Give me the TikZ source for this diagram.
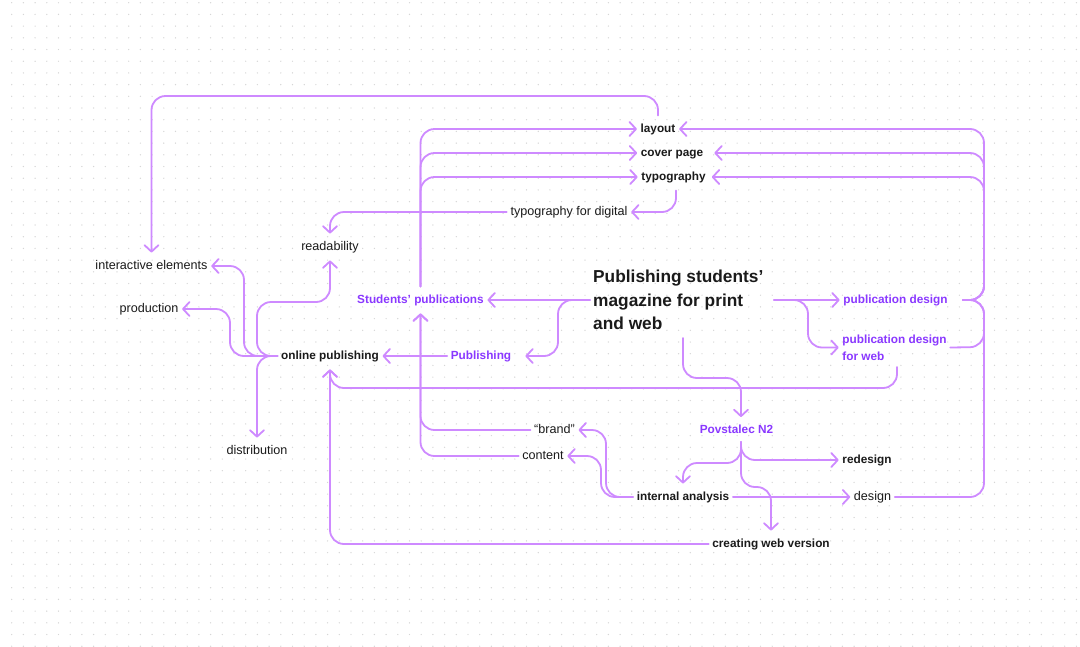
\documentclass[tikz,border=0pt]{standalone}
\usepackage{fontspec}
\setmainfont{Liberation Sans}
\usetikzlibrary{arrows.meta}
\definecolor{ln}{RGB}{206,138,255}
\definecolor{pur}{RGB}{138,56,255}
\definecolor{txt}{RGB}{26,26,26}
\definecolor{dotc}{RGB}{214,214,214}
\begin{document}
\begin{tikzpicture}[x=1pt,y=-1pt,
  lab/.style={text=txt, inner xsep=3.5pt, inner ysep=7.5pt, text height=9pt, text depth=2.5pt, font=\fontsize{12.6}{15}\selectfont},
  blab/.style={lab, font=\fontsize{11.8}{15}\selectfont\bfseries},
  plab/.style={blab, text=pur},
  multi/.style={text=pur, align=left, inner xsep=3.5pt, inner ysep=2pt, font=\fontsize{11.8}{17}\selectfont\bfseries},
  ttl/.style={text=txt, align=left, anchor=west, inner sep=0pt, font=\fontsize{17.3}{23.5}\selectfont\bfseries},
  conn/.style={draw=ln, line width=1.8pt, rounded corners=14pt, line cap=round},
  arr/.style={conn, -{Straight Barb[length=6.5pt,width=14pt,round]}}
]
\fill[white] (0,0) rectangle (1080,646);
\useasboundingbox (0,0) rectangle (1080,646);
\foreach \i in {0,...,91} {\foreach \j in {0,...,55} {\fill[dotc] ({11.7+\i*11.7},{2.7+\j*11.7}) circle (0.7pt);}}

% nodes
\node[blab] (layout) at (658,129) {layout};
\node[blab] (cover) at (672,153) {cover page};
\node[blab] (typo) at (673.5,177) {typography};
\node[lab] (typodig) at (569,212) {typography for digital};
\node[lab] (read) at (330,247) {readability};
\node[lab] (inter) at (151.5,266) {interactive elements};
\node[lab] (prod) at (149,309) {production};
\node[blab] (onl) at (330,356) {online publishing};
\node[lab] (dist) at (257,451) {distribution};
\node[plab] (stud) at (420.5,300) {Students’ publications};
\node[ttl] (title) at (593,300) {Publishing students’\\magazine for print\\and web};
\node[plab] (pd) at (895.5,300) {publication design};
\node[multi] (pdw) at (894.5,347.5) {publication design\\for web};
\node[plab] (pub) at (481,356) {Publishing};
\node[plab] (pov) at (736.5,430.5) {Povstalec N2};
\node[lab] (brand) at (554.5,430) {“brand”};
\node[lab] (content) at (543,456) {content};
\node[blab] (ia) at (683,497) {internal analysis};
\node[blab] (redesign) at (867,460) {redesign};
\node[lab] (design) at (872.5,497) {design};
\node[blab] (cwv) at (771,544) {creating web version};

% free ends
\coordinate (tL) at (590,300);
\coordinate (tR) at (774,300);
\coordinate (tB) at (683,338);
\coordinate (pdT) at (963,300);
\coordinate (pdwB) at (897,367);
\coordinate (povB) at (741,442);

% top left loop
\draw[arr] (layout.north) -- (658,96) -- (151.5,96) -- (inter.north);
% students' publications to layout/cover/typography
\draw[arr] (stud.north) -- (420.5,129) -- (layout.west);
\draw[arr] (stud.north) -- (420.5,153) -- (cover.west);
\draw[arr] (stud.north) -- (420.5,177) -- (typo.west);
% typography chain
\draw[arr] ([xshift=2.5pt]typo.south) -- (676,212) -- (typodig.east);
\draw[arr] (typodig.west) -- (330,212) -- (read.north);
% right brace
\draw[arr] (pdT) -- (984,300) -- (984,129) -- (layout.east);
\draw[arr] (pdT) -- (984,300) -- (984,153) -- ([xshift=7.5pt]cover.east);
\draw[arr] (pdT) -- (984,300) -- (984,177) -- ([xshift=2.5pt]typo.east);
\draw[conn] (pdw.east) -- (984,347) -- (984,300) -- (pdT);
\draw[conn] (design.east) -- (984,497) -- (984,300) -- (pdT);
% title
\draw[arr] (tL) -- (stud.east);
\draw[arr] (tL) -- (558,300) -- (558,356) -- ([xshift=10.5pt]pub.east);
\draw[arr] (tR) -- (pd.west);
\draw[arr] (tR) -- (808,300) -- (808,347.5) -- (pdw.west);
\draw[arr] (tB) -- (683,378) -- (741,378) -- ([xshift=4.5pt]pov.north);
% online publishing
\draw[arr] (pub.west) -- (onl.east);
\draw[arr] (pdwB) -- (897,388) -- (330,388) -- (onl.south);
\draw[arr] (cwv.west) -- (330,544) -- (onl.south);
\draw[arr] (onl.west) -- (244,356) -- (244,266) -- (inter.east);
\draw[arr] (onl.west) -- (230,356) -- (230,309) -- (prod.east);
\draw[arr] (onl.west) -- (257,356) -- (257,302) -- (330,302) -- (read.south);
\draw[arr] (onl.west) -- (257,356) -- (dist.north);
% brand / content to students' publications
\draw[arr] (brand.west) -- (420.5,430) -- (stud.south);
\draw[arr] (content.west) -- (420.5,456) -- (stud.south);
% Povstalec
\draw[arr] (povB) -- (741,460) -- (redesign.west);
\draw[arr] (povB) -- (741,463) -- (683,463) -- (ia.north);
\draw[arr] (povB) -- (741,487) -- (771,487) -- (cwv.north);
% internal analysis
\draw[arr] (ia.east) -- (design.west);
\draw[arr] (ia.west) -- (606,497) -- (606,430) -- (brand.east);
\draw[arr] (ia.west) -- (601,497) -- (601,456) -- (content.east);
\end{tikzpicture}
\end{document}
